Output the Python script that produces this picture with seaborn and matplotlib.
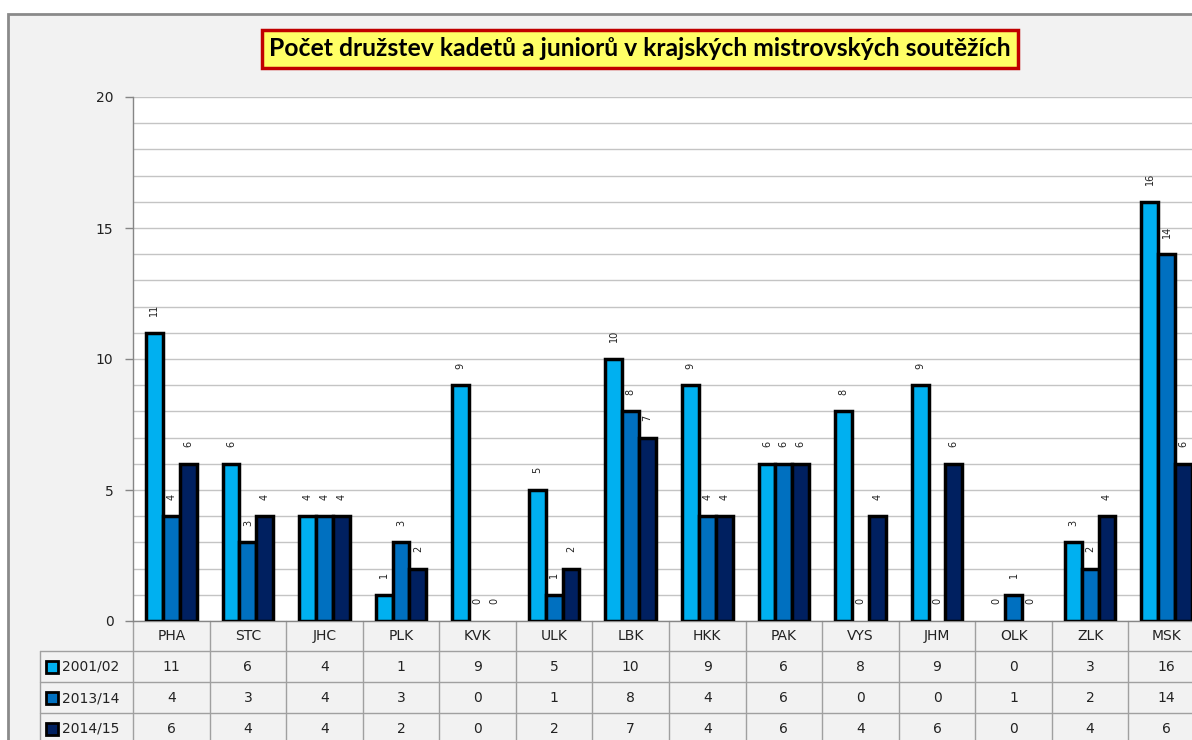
import pandas as pd
import matplotlib
matplotlib.use("Agg")
import matplotlib.pyplot as plt
import matplotlib.transforms as mtransforms
from matplotlib.patches import Rectangle
import seaborn as sns

# data
regions = ["PHA", "STC", "JHC", "PLK", "KVK", "ULK", "LBK", "HKK", "PAK", "VYS", "JHM", "OLK", "ZLK", "MSK"]
seasons = ["2001/02", "2013/14", "2014/15"]
teams_2001 = [11, 6, 4, 1, 9, 5, 10, 9, 6, 8, 9, 0, 3, 16]
teams_2013 = [4, 3, 4, 3, 0, 1, 8, 4, 6, 0, 0, 1, 2, 14]
teams_2014 = [6, 4, 4, 2, 0, 2, 7, 4, 6, 4, 6, 0, 4, 6]
colors = ["#00b0f0", "#0070c0", "#002060"]
title = "Počet družstev kadetů a juniorů v krajských mistrovských soutěžích"

series = [teams_2001, teams_2013, teams_2014]
df = pd.DataFrame({
    "region": regions * 3,
    "season": [s for s in seasons for _ in regions],
    "teams": teams_2001 + teams_2013 + teams_2014,
})

sns.set_theme(style="white")
plt.rcParams["font.family"] = ["DejaVu Sans"]

W, H = 1192, 740
fig = plt.figure(figsize=(W / 100, H / 100), dpi=100)
fig.patch.set_facecolor("white")

# outer chart frame (cut off at right/bottom like the screenshot)
frame = Rectangle((8 / W, -0.1), 1.2, (H - 14) / H + 0.1, transform=fig.transFigure,
                  facecolor="#f2f2f2", edgecolor="#8a8a8a", linewidth=2, zorder=-5)
fig.patches.append(frame)

ax_left, ax_right, ax_top, ax_bottom = 133, 1205, 97, 621
ax = fig.add_axes([ax_left / W, (H - ax_bottom) / H,
                   (ax_right - ax_left) / W, (ax_bottom - ax_top) / H])
ax.set_facecolor("white")

sns.barplot(data=df, x="region", y="teams", hue="season", order=regions,
            hue_order=seasons, palette=colors, width=0.66, gap=0,
            edgecolor="black", linewidth=2.5, saturation=1, legend=False, ax=ax,
            zorder=3)

for cont, vals in zip(ax.containers, series):
    for patch, v in zip(cont, vals):
        if v == 0:
            patch.set_linewidth(0)
    ax.bar_label(cont, labels=[str(v) for v in vals], padding=12, rotation=90,
                 fontsize=7, color="#222222")

ax.set_ylim(0, 20)
ax.set_xlim(-0.5, len(regions) - 0.5)
ax.set_yticks([0, 5, 10, 15, 20])
ax.set_yticks(range(0, 21), minor=True)
ax.grid(axis="y", which="both", color="#c4c4c4", linewidth=1, zorder=0)
ax.set_axisbelow(True)
ax.set_xlabel("")
ax.set_ylabel("")
ax.set_xticks([])
ax.tick_params(axis="y", which="major", length=6, width=1, color="#868686",
               pad=8, labelsize=10, labelcolor="#222222", left=True)
ax.tick_params(axis="y", which="minor", length=0)
for s in ["top", "right"]:
    ax.spines[s].set_visible(False)
ax.spines["left"].set_color("#868686")
ax.spines["bottom"].set_color("#868686")
ax.spines["left"].set_linewidth(1)
ax.spines["bottom"].set_linewidth(1)

# data table below the plot
def fy(py):
    return (ax_bottom - py) / (ax_bottom - ax_top)

def fx(px):
    return (px - ax_left) / (ax_right - ax_left)

blend = mtransforms.blended_transform_factory(ax.transData, ax.transAxes)
line_kw = dict(color="#a0a0a0", linewidth=1, clip_on=False)

row_lines = [651, 682, 713]
for py in row_lines:
    ax.plot([fx(40), 1.05], [fy(py), fy(py)], transform=ax.transAxes, **line_kw)
for i in range(len(regions) + 1):
    ax.plot([i - 0.5, i - 0.5], [0, fy(760)], transform=blend, **line_kw)
ax.plot([fx(40), fx(40)], [fy(651), fy(760)], transform=ax.transAxes, **line_kw)

header_y = fy(636)
row_y = [fy(667), fy(698), fy(729)]
for i, r in enumerate(regions):
    ax.text(i, header_y, r, transform=blend, ha="center", va="center",
            fontsize=10, color="#222222", clip_on=False)
for k, (season, vals, c) in enumerate(zip(seasons, series, colors)):
    ax.plot([fx(51.5)], [row_y[k]], marker="s", markersize=9, markerfacecolor=c,
            markeredgecolor="black", markeredgewidth=2, transform=ax.transAxes,
            clip_on=False)
    ax.text(fx(62), row_y[k], season, transform=ax.transAxes, ha="left",
            va="center", fontsize=10, color="#222222", clip_on=False)
    for i, v in enumerate(vals):
        ax.text(i, row_y[k], str(v), transform=blend, ha="center", va="center",
                fontsize=10, color="#222222", clip_on=False)

fig.text(640 / W, 1 - 49 / H, title, ha="center", va="center", fontsize=17.8,
         family=["Lato", "DejaVu Sans"], weight="bold", color="black",
         bbox=dict(boxstyle="square,pad=0.3", facecolor="#ffff66",
                   edgecolor="#c00000", linewidth=2.5))

fig.savefig("out.png", dpi=100)
